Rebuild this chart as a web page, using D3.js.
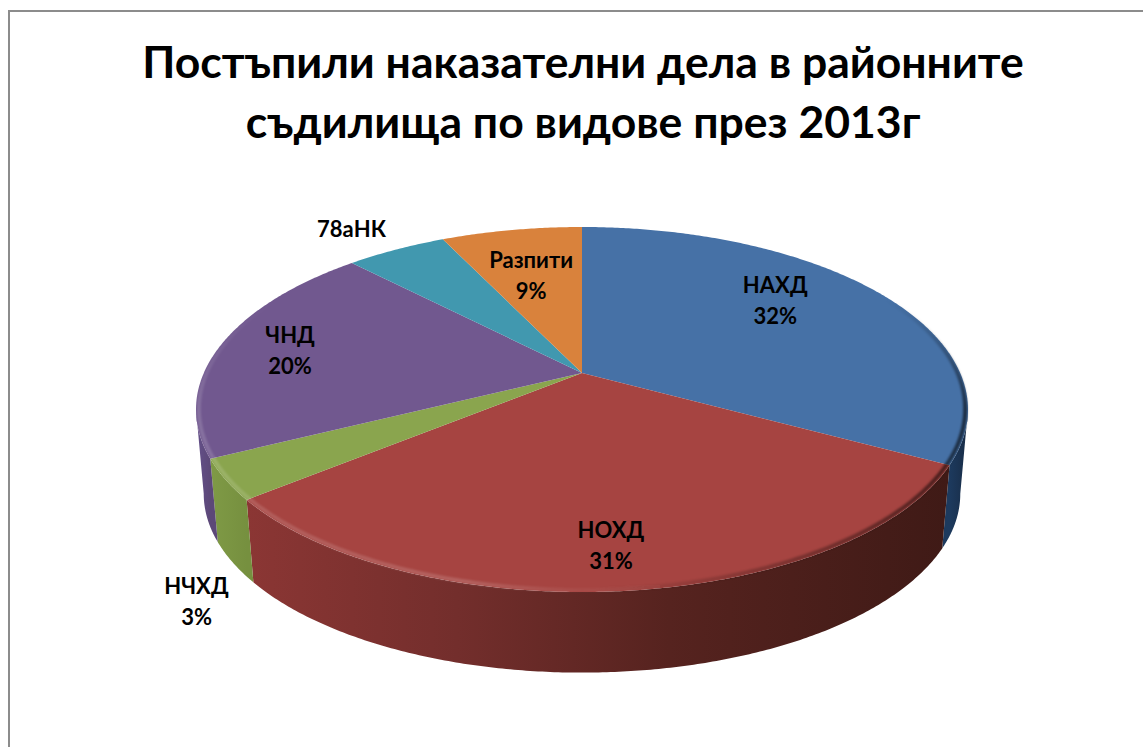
<!DOCTYPE html>
<html><head><meta charset="utf-8">
<script src="https://cdn.jsdelivr.net/npm/d3@7"></script>
<style>html,body{margin:0;background:#fff;overflow:hidden}svg{display:block}
text{font-family:Lato,"Noto Sans",sans-serif;font-weight:700;fill:#000}</style></head>
<body><svg id="c" width="1143" height="747"></svg>
<script>
// Data
const categories = ["НАХД","НОХД","НЧХД","ЧНД","78аНК","Разпити"];
const drawnShares = [32.9,31.2,3.55,20.1,5.1,7.15];      // wedge sizes as drawn
const printedPercent = ["32%","31%","3%","20%","","9%"]; // labels as printed
const titleLines = ["Постъпили наказателни дела в районните","съдилища по видове през 2013г"];

// Styles
const topColors = ["#4671a6","#a64441","#8aa54e","#71588f","#4198af","#d9823c"];
const wallStops = [
  [[0,"#1d3a5e"],[1,"#182c46"]],
  [[0,"#8b3634"],[.3,"#732e2c"],[.6,"#56231f"],[1,"#3f1a16"]],
  [[0,"#7f9a46"],[1,"#76903f"]],
  [[0,"#64508a"],[1,"#5c4878"]],
  [[0,"#347"],[1,"#347"]],
  [[0,"#a5622d"],[1,"#a5622d"]]
];
// Layout
const W=1143,H=747,cx=582,cy=373;
const persp=.2,Rx=378.2,Ry=175.2,wallScale=.98,wallCy=458;
const defaultR=[.7,.7,1.15,.7,1.15,.7];
const nudges=[[-19,-14],[0,31],[32,104],[-37,-2],[-21,-5],[1,8]];
const labelGap=31,labelSize=22,titleSize=44.5;

const svg=d3.select("#c");
const defs=svg.append("defs");
defs.append("filter").attr("id","soft").attr("filterUnits","userSpaceOnUse")
  .attr("x",0).attr("y",0).attr("width",W).attr("height",H)
  .append("feGaussianBlur").attr("stdDeviation",1.3);

// Projection of the unit pie disc to the screen with perspective
function proj(a,r){
  const x=r*Math.sin(a),y=-r*Math.cos(a),w=1-persp*y;
  return [Rx*x/w,Ry*y/w];
}
const topPt=(a,r=1)=>{const p=proj(a,r);return [cx+p[0],cy+p[1]];};
const lowPt=a=>{const p=proj(a,1);return [cx+wallScale*p[0],wallCy+wallScale*p[1]];};
const line=d3.line();
const step=Math.PI/360;
const angles=(a,b)=>{const o=d3.range(a,b,step);o.push(b);return o;};

const arcs=d3.pie().sort(null).value(d=>d)(drawnShares);

// Side walls, between the two silhouette angles of the disc
const wallFrom=Math.PI-Math.acos(persp),wallTo=Math.PI+Math.acos(persp);
const xExtent=[cx-386,cx+386];
arcs.forEach((d,i)=>{
  const a=Math.max(d.startAngle,wallFrom),b=Math.min(d.endAngle,wallTo);
  if(b<=a) return;
  const as=angles(a,b);
  const x0=d3.min(as,t=>topPt(t)[0]),x1=d3.max(as,t=>topPt(t)[0]);
  const g=defs.append("linearGradient").attr("id","w"+i).attr("gradientUnits","userSpaceOnUse")
    .attr("x1",x0).attr("x2",x1).attr("y1",0).attr("y2",0);
  wallStops[i].forEach(s=>g.append("stop").attr("offset",s[0]).attr("stop-color",s[1]));
  const pts=as.map(t=>topPt(t)).concat(as.slice().reverse().map(lowPt));
  svg.append("path").attr("d",line(pts)+"Z").attr("fill",`url(#w${i})`);
});

// Top faces
arcs.forEach((d,i)=>{
  const pts=[[cx,cy]].concat(angles(d.startAngle,d.endAngle).map(t=>topPt(t)));
  svg.append("path").attr("d",line(pts)+"Z").attr("fill",topColors[i]);
});

// Bevel along the front rim of the top face, fading out towards the back
const rim=defs.append("linearGradient").attr("id","rim").attr("gradientUnits","userSpaceOnUse")
  .attr("x1",xExtent[0]).attr("x2",xExtent[1]).attr("y1",0).attr("y2",0);
[[0,"#fff",.16],[.07,"#fff",.14],[.35,"#fff",.16],[.5,"#fff",.04],[.62,"#000",.1],[.85,"#000",.35],[1,"#000",.6]]
 .forEach(s=>rim.append("stop").attr("offset",s[0]).attr("stop-color",s[1]).attr("stop-opacity",s[2]));
const fade=defs.append("linearGradient").attr("id","fade").attr("gradientUnits","userSpaceOnUse")
  .attr("x1",0).attr("x2",0).attr("y1",300).attr("y2",410);
[[0,"#000"],[1,"#fff"]].forEach(s=>fade.append("stop").attr("offset",s[0]).attr("stop-color",s[1]));
defs.append("mask").attr("id","rimMask").attr("maskUnits","userSpaceOnUse")
  .attr("x",0).attr("y",0).attr("width",W).attr("height",H)
  .append("rect").attr("width",W).attr("height",H).attr("fill","url(#fade)");
svg.append("g").attr("mask","url(#rimMask)")
  .append("path").attr("d",line(angles(Math.PI*.2,Math.PI*1.75).map(t=>topPt(t,.993))))
  .attr("fill","none").attr("stroke","url(#rim)").attr("stroke-width",4).attr("filter","url(#soft)");

// Labels
arcs.forEach((d,i)=>{
  const p=topPt((d.startAngle+d.endAngle)/2,defaultR[i]);
  const x=p[0]+nudges[i][0],y=p[1]+nudges[i][1];
  const two=printedPercent[i]!=="";
  const t=svg.append("text").attr("text-anchor","middle").attr("font-size",labelSize);
  t.append("tspan").attr("x",x).attr("y",y+(two?-labelGap/2:0)+labelSize*.35).text(categories[i]);
  if(two) t.append("tspan").attr("x",x).attr("y",y+labelGap/2+labelSize*.35).text(printedPercent[i]);
});

// Title
titleLines.forEach((s,i)=>svg.append("text").attr("x",cx+1).attr("y",78+i*60)
  .attr("text-anchor","middle").attr("font-size",titleSize).text(s));

// Frame (left and top edges only are in view)
svg.append("path").attr("d",line([[9,H],[9,11],[W,11]])).attr("fill","none").attr("stroke","#8c8c8c").attr("stroke-width",2);
</script></body></html>
